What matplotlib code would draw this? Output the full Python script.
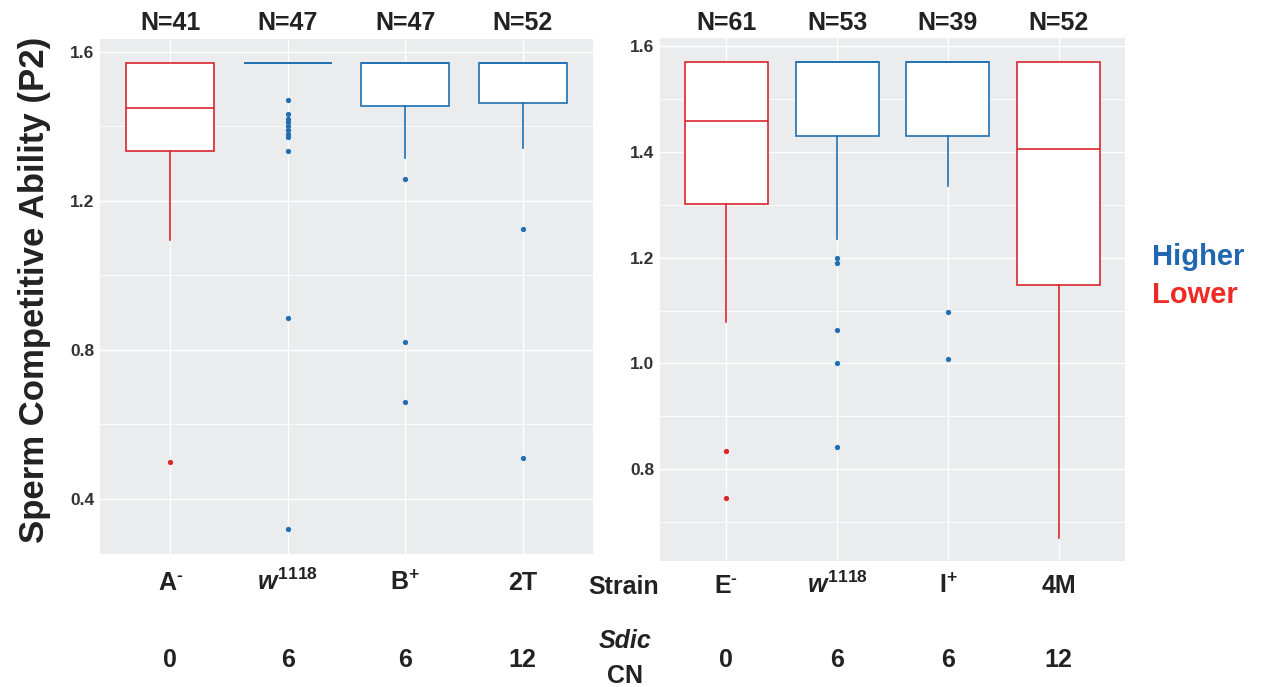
import matplotlib
matplotlib.use("Agg")
import matplotlib.pyplot as plt
import matplotlib.transforms as mtransforms

plt.rcParams['font.family'] = ['Liberation Sans', 'DejaVu Sans']
plt.rcParams['font.weight'] = 'bold'
plt.rcParams['mathtext.fontset'] = 'custom'
plt.rcParams['mathtext.rm'] = 'Liberation Sans:bold'
plt.rcParams['mathtext.bf'] = 'Liberation Sans:bold'
plt.rcParams['mathtext.it'] = 'Liberation Sans:italic:bold'

# data (arcsine transformed P2, max = pi/2)
top = 1.5708

left_labels = [r'$\mathrm{A}^{\text{-}}$', r'$w^{\mathrm{1118}}$', r'$\mathrm{B}^{+}$', '2T']
left_n = [41, 47, 47, 52]
left_cn = ['0', '6', '6', '12']
left_higher = [False, True, True, True]
left_q1 = [1.334, top, 1.455, 1.462]
left_med = [1.449, top, top, top]
left_q3 = [top, top, top, top]
left_whislo = [1.093, top, 1.314, 1.341]
left_whishi = [top, top, top, top]
left_fliers = [[0.497],
               [1.469, 1.433, 1.42, 1.41, 1.40, 1.39, 1.38, 1.371, 1.333, 0.884, 0.318],
               [1.258, 0.821, 0.659],
               [1.124, 0.509]]

right_labels = [r'$\mathrm{E}^{\text{-}}$', r'$w^{\mathrm{1118}}$', r'$\mathrm{I}^{+}$', '4M']
right_n = [61, 53, 39, 52]
right_cn = ['0', '6', '6', '12']
right_higher = [False, True, True, False]
right_q1 = [1.301, 1.430, 1.430, 1.149]
right_med = [1.458, top, top, 1.405]
right_q3 = [top, top, top, top]
right_whislo = [1.078, 1.235, 1.336, 0.670]
right_whishi = [top, top, top, top]
right_fliers = [[0.834, 0.746],
                [1.20, 1.19, 1.064, 1.0, 0.841],
                [1.098, 1.009],
                []]

blue = '#1f6fb2'
red = '#d9272e'
W, H = 1261, 687

fig = plt.figure(figsize=(W / 100, H / 100), dpi=100)


def px_axes(x0, y0, x1, y1):
    return fig.add_axes([x0 / W, 1 - y1 / H, (x1 - x0) / W, (y1 - y0) / H])


def draw_panel(ax, labels, n, cn, higher, q1, med, q3, lo, hi, fliers,
               ylim, major, minor, lab_base, num_base):
    ax.set_facecolor('#ebecee')
    for s in ax.spines.values():
        s.set_visible(False)
    pos = [1, 2, 3, 4]
    for i in range(4):
        c = blue if higher[i] else red
        st = [dict(med=med[i], q1=q1[i], q3=q3[i], whislo=lo[i], whishi=hi[i],
                   fliers=fliers[i])]
        ax.bxp(st, positions=[pos[i]], widths=0.75, patch_artist=True,
               showcaps=False, showfliers=True,
               boxprops=dict(facecolor='white', edgecolor=c, linewidth=1.2),
               medianprops=dict(color=c, linewidth=1.2),
               whiskerprops=dict(color=c, linewidth=1.2),
               flierprops=dict(marker='o', markerfacecolor=c, markeredgewidth=0,
                               markersize=3.8))
    ax.set_xlim(0.4, 4.6)
    ax.set_ylim(*ylim)
    ax.set_yticks(major)
    ax.set_yticks(minor, minor=True)
    ax.set_yticklabels(['%.1f' % v for v in major])
    ax.set_xticks(pos)
    ax.set_xticklabels([])
    ax.grid(True, which='major', color='white', linewidth=1.0)
    ax.grid(True, which='minor', axis='y', color='white', linewidth=0.6)
    ax.set_axisbelow(True)
    ax.tick_params(length=0, pad=4, labelsize=12.5, labelcolor='#333333')
    ax.tick_params(which='minor', length=0)
    tr = mtransforms.blended_transform_factory(ax.transData, fig.transFigure)
    for i in range(4):
        ax.text(pos[i], 1 - 30 / H, 'N=%d' % n[i], transform=tr, ha='center',
                va='baseline', fontsize=18, fontweight='bold', color='#222222')
        ax.text(pos[i], 1 - lab_base / H, labels[i], transform=tr, ha='center',
                va='baseline', fontsize=18, fontweight='bold', color='#222222')
        ax.text(pos[i], 1 - num_base / H, cn[i], transform=tr, ha='center',
                va='baseline', fontsize=18, fontweight='bold', color='#222222')


ax1 = px_axes(100, 39, 593, 554)
draw_panel(ax1, left_labels, left_n, left_cn, left_higher, left_q1, left_med,
           left_q3, left_whislo, left_whishi, left_fliers,
           (0.251, 1.634), [0.4, 0.8, 1.2, 1.6], [0.6, 1.0, 1.4], 590, 667)

ax2 = px_axes(660, 38, 1125, 561)
draw_panel(ax2, right_labels, right_n, right_cn, right_higher, right_q1, right_med,
           right_q3, right_whislo, right_whishi, right_fliers,
           (0.626, 1.616), [0.8, 1.0, 1.2, 1.4, 1.6], [0.7, 0.9, 1.1, 1.3, 1.5],
           593, 667)

fig.text(35 / W, 1 - 290 / H, 'Sperm Competitive Ability (P2)', rotation=90,
         ha='center', va='center', fontsize=25, fontweight='bold', color='#222222')
fig.text(624 / W, 1 - 594 / H, 'Strain', ha='center', va='baseline',
         fontsize=18, fontweight='bold', color='#222222')
fig.text(625 / W, 1 - 648 / H, 'Sdic', ha='center', va='baseline', fontsize=18,
         fontweight='bold', fontstyle='italic', color='#222222')
fig.text(625 / W, 1 - 683 / H, 'CN', ha='center', va='baseline', fontsize=18,
         fontweight='bold', color='#222222')
fig.text(1152 / W, 1 - 265 / H, 'Higher', ha='left', va='baseline', fontsize=21,
         fontweight='bold', color='#2166b0')
fig.text(1152 / W, 1 - 303 / H, 'Lower', ha='left', va='baseline', fontsize=21,
         fontweight='bold', color='#ee2a24')

fig.savefig('out.png', dpi=100)
